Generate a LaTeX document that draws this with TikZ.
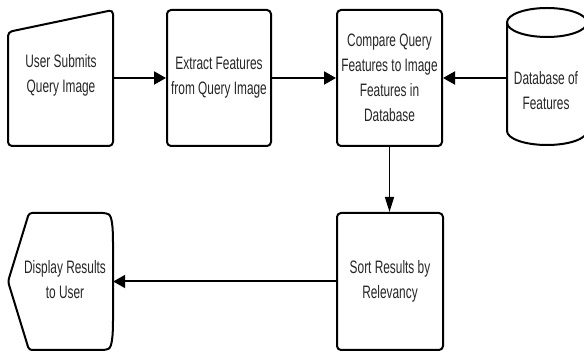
\documentclass[tikz,border=0pt]{standalone}
\usepackage{fontspec}
\setmainfont[FakeStretch=0.66]{Liberation Sans}
\usetikzlibrary{arrows.meta}
\begin{document}
\begin{tikzpicture}[x=1pt,y=-1pt,
  outline/.style={draw=black,line width=2pt,line join=round},
  txt/.style={align=center,text=black!85,font=\fontsize{18}{25}\selectfont,inner sep=0pt},
  procbox/.style={outline,rounded corners=4pt,minimum height=136pt,txt},
  hidden/.style={minimum width=105pt,minimum height=136pt,inner sep=0pt},
  flowh/.style={line width=2pt,-{Triangle[length=12pt,width=13pt]}},
  flowv/.style={line width=1.5pt,-{Triangle[length=15pt,width=9pt]}},
]
\useasboundingbox (0,0) rectangle (584,352);

% process boxes
\node[procbox,minimum width=104pt] (extract) at (219,78)
  {Extract Features\\from Query Image};
\node[procbox,minimum width=105pt] (compare) at (389.5,78)
  {Compare Query\\Features to Image\\Features in\\Database};
\node[procbox,minimum width=106pt,minimum height=137pt] (sort) at (390,281.5)
  {Sort Results by\\Relevancy};

% manual input shape
\node[hidden] (user) at (60.5,78) {};
\draw[outline,rounded corners=4pt] (8,146) -- (8,32) -- (113,10) -- (113,146) -- cycle;
\node[txt] at (61,75) {User Submits\\Query Image};

% display shape
\node[hidden,minimum height=137pt] (disp) at (60.5,281.5) {};
\draw[outline,rounded corners=3pt] (8,281.5) -- (29,213) -- (106,213)
  .. controls (112,216) and (113,228) .. (113,245) -- (113,318)
  .. controls (113,335) and (112,347) .. (106,350) -- (29,350) -- cycle;
\node[txt] at (65,280) {Display Results\\to User};

% database cylinder
\node[minimum width=80pt,minimum height=108pt,inner sep=0pt] (db) at (547,91) {};
\draw[outline] (547,22.5) ellipse [x radius=40, y radius=14.5];
\draw[outline] (507,22.5) -- (507,131) arc[start angle=180,end angle=0,x radius=40,y radius=14] -- (587,22.5);
\node[txt] at (546,91) {Database of\\Features};

% connectors
\draw[flowh] (user.east) -- (extract.west);
\draw[flowh] (extract.east) -- (compare.west);
\draw[flowh] (db.west |- compare.east) -- (compare.east);
\draw[flowv] (compare.south) -- (compare.south |- sort.north);
\draw[flowh] (sort.west) -- (disp.east);
\end{tikzpicture}
\end{document}
